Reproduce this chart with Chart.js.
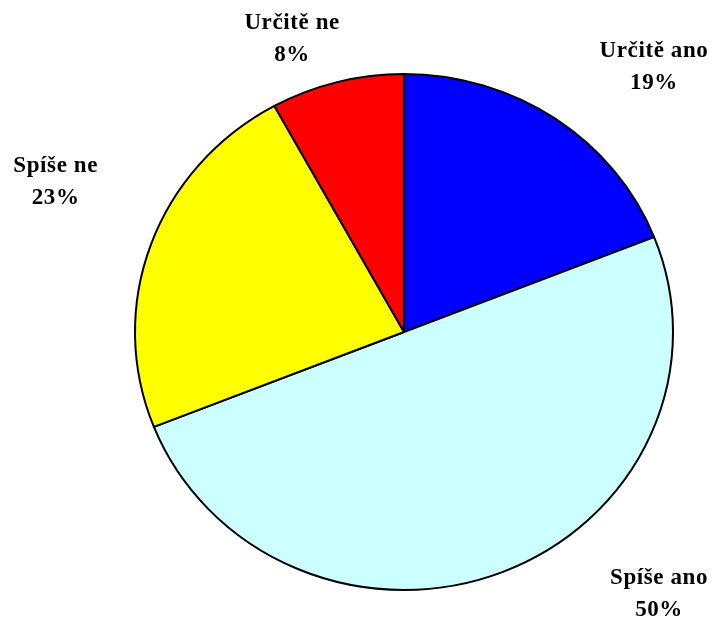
<!DOCTYPE html>
<html>
<head>
<meta charset="utf-8">
<script src="https://cdn.jsdelivr.net/npm/chart.js@4/dist/chart.umd.min.js"></script>
<style>
html,body{margin:0;padding:0;background:#fff;}
#wrap{width:715px;height:621px;}
</style>
</head>
<body>
<div id="wrap"><canvas id="c" width="715" height="621"></canvas></div>
<script>
const categories = ["Určitě ano", "Spíše ano", "Spíše ne", "Určitě ne"];
const values = [19, 50, 23, 8];
const percentLabels = ["19%", "50%", "23%", "8%"];
const colors = ["#0000FF", "#CCFFFF", "#FFFF00", "#FF0000"];

// label placement: angle (deg, clockwise from top) and distance as fraction of radius
const labelPlacement = [
  {angle: 43.3, dist: 1.355},
  {angle: 135.8, dist: 1.36},
  {angle: 293.3, dist: 1.41},
  {angle: 339.1, dist: 1.166}
];
const verticalSquash = 0.959;

const squashPlugin = {
  id: 'squash',
  beforeDatasetsDraw(chart) {
    const arc = chart.getDatasetMeta(0).data[0];
    const ctx = chart.ctx;
    ctx.save();
    ctx.translate(arc.x, arc.y);
    ctx.scale(1, verticalSquash);
    ctx.translate(-arc.x, -arc.y);
  },
  afterDatasetsDraw(chart) {
    chart.ctx.restore();
  }
};

const labelPlugin = {
  id: 'outerLabels',
  afterDatasetsDraw(chart) {
    const ctx = chart.ctx;
    const meta = chart.getDatasetMeta(0);
    ctx.save();
    ctx.font = 'bold 23px "Liberation Serif", "Times New Roman", serif';
    if ('letterSpacing' in ctx) ctx.letterSpacing = '0.6px';
    ctx.fillStyle = '#000';
    ctx.textAlign = 'center';
    ctx.textBaseline = 'middle';
    meta.data.forEach((arc, i) => {
      const p = labelPlacement[i];
      const a = p.angle * Math.PI / 180;
      const r = arc.outerRadius * p.dist;
      const x = arc.x + Math.sin(a) * r;
      const y = arc.y - Math.cos(a) * r;
      ctx.fillText(categories[i], x, y - 16);
      ctx.fillText(percentLabels[i], x, y + 16);
    });
    ctx.restore();
  }
};

new Chart(document.getElementById('c'), {
  type: 'pie',
  data: {
    labels: categories,
    datasets: [{
      data: values,
      backgroundColor: colors,
      borderColor: '#000',
      borderWidth: 2,
      borderAlign: 'center'
    }]
  },
  options: {
    responsive: false,
    animation: false,
    layout: {padding: {top: 62, bottom: 19, left: 134, right: 41}},
    plugins: {legend: {display: false}, tooltip: {enabled: false}}
  },
  plugins: [squashPlugin, labelPlugin]
});
</script>
</body>
</html>
